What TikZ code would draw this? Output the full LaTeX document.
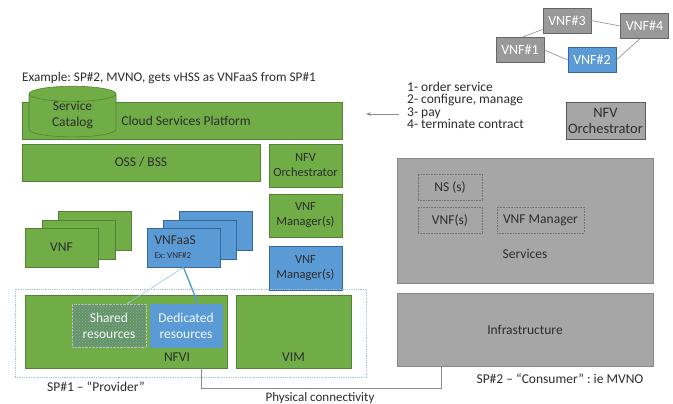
\documentclass[tikz,border=0pt]{standalone}
\usepackage{fontspec}
\setmainfont{Carlito}
\usepackage{tikz}
\usetikzlibrary{shapes,shapes.geometric,arrows.meta,patterns,positioning}
\definecolor{vgreen}{RGB}{112,173,71}
\definecolor{vgreenline}{RGB}{84,130,53}
\definecolor{vblue}{RGB}{91,155,213}
\definecolor{vblueline}{RGB}{52,105,155}
\definecolor{vgray}{RGB}{166,166,166}
\definecolor{vgrayline}{RGB}{135,135,135}
\definecolor{vtext}{RGB}{45,45,45}
\definecolor{vshared}{RGB}{100,148,106}
\definecolor{vdot}{RGB}{165,195,215}
\tikzstyle{gbox}=[shape=rectangle,draw=vgreenline,fill=vgreen,line width=0.6pt,inner sep=0pt,text=vtext,align=center]
\tikzstyle{bbox}=[shape=rectangle,draw=vblueline,fill=vblue,line width=0.6pt,inner sep=0pt,text=vtext,align=center]
\tikzstyle{graybox}=[shape=rectangle,draw=vgrayline,fill=vgray,line width=0.6pt,inner sep=0pt,text=vtext,align=center]
\tikzstyle{chainbox}=[shape=rectangle,draw=black!60,fill=black!40,line width=0.6pt,inner sep=0pt,text=white,minimum width=48,minimum height=25,font=\fontsize{14}{16}\selectfont]
\tikzstyle{dotbox}=[shape=rectangle,draw=black!55,densely dotted,line width=0.6pt,inner sep=0pt,text=vtext,minimum height=26]
\tikzstyle{narrow}=[font=\fontsize{12.5}{15}\selectfont]
\tikzstyle{lbl}=[text=vtext,inner sep=0pt]
\tikzstyle{thinedge}=[draw=black!45,line width=0.6pt]

\begin{document}
\frenchspacing
\begin{tikzpicture}[x=1pt,y=-1pt,font=\fontsize{13.5}{16}\selectfont]
 \useasboundingbox[fill=white] (0,0) rectangle (673,404);

 \node[lbl,font=\fontsize{13.2}{16}\selectfont] (title) at (169,78) {Example: SP\#2, MVNO, gets vHSS as VNFaaS from SP\#1};

 % SP#1 stack
 \node[gbox,minimum width=320,minimum height=37] (csp) at (182,120.5) {\hspace*{8pt}Cloud Services Platform};
 \node[gbox,cylinder,shape border rotate=90,shape aspect=0.37,minimum width=87,minimum height=49] (cat) at (72.5,115.5) {Service\\Catalog};
 \node[gbox,minimum width=238,minimum height=37] (oss) at (141,162.5) {OSS / BSS};
 \node[gbox,narrow,minimum width=73,minimum height=43] (orch) at (305.5,165.5) {NFV\\Orchestrator};
 \node[gbox,narrow,minimum width=73,minimum height=43] (vnfm) at (305.5,215.5) {VNF\\Manager(s)};
 \node[bbox,narrow,minimum width=73,minimum height=44] (vnfmb) at (305.5,268) {VNF\\Manager(s)};

 \node[gbox,minimum width=73,minimum height=39] (vnf3) at (94.5,230.5) {};
 \node[gbox,minimum width=73,minimum height=39] (vnf2) at (78.5,239.5) {};
 \node[gbox,minimum width=73,minimum height=39] (vnf1) at (61.5,247.5) {VNF};

 \node[bbox,minimum width=73,minimum height=39] (aas3) at (216,230.5) {};
 \node[bbox,minimum width=73,minimum height=39] (aas2) at (199.5,239.5) {};
 \node[bbox,minimum width=73,minimum height=39,text width=58,align=left] (aas1) at (183.5,247.5) {VNFaaS\\[-2pt]{\fontsize{9}{10}\selectfont Ex:\kern2pt VNF\#2}};

 \node[draw=vdot,densely dotted,line width=0.8pt,minimum width=351,minimum height=88,inner sep=0pt] (sp1) at (190.5,333) {};
 \node[gbox,minimum width=202,minimum height=73] (nfvi) at (126,331.5) {};
 \node[shape=rectangle,draw=black!25,densely dotted,fill=vshared,text=white!92!vshared,minimum width=74,minimum height=43,inner sep=0pt,align=center,
   postaction={pattern=crosshatch dots,pattern color=white!25!vshared}] (shared) at (109,325.5) {Shared\\resources};
 \node[bbox,text=white!92!vblue,draw=vblue,minimum width=72,minimum height=43] (ded) at (186,325.5) {Dedicated\\resources};
 \node[lbl] (nfvil) at (177,357) {NFVI};
 \node[gbox,minimum width=115,minimum height=73] (vim) at (293.5,331.5) {};
 \node[lbl] (viml) at (293.5,357) {VIM};
 \node[lbl] (sp1l) at (96,387) {SP\#1 – “Provider”};

 % SP#2
 \node[chainbox] (c3) at (567,20.5) {VNF\#3};
 \node[chainbox] (c4) at (644.5,26) {VNF\#4};
 \node[chainbox] (c1) at (520,50) {VNF\#1};
 \node[chainbox,fill=vblue,draw=vblueline] (c2) at (592,60) {VNF\#2};
 \node[lbl,anchor=north west,align=left,font=\fontsize{13.5}{12.3}\selectfont] (steps) at (407,82) {1- order service\\2- configure, manage\\3- pay\\4- terminate contract};
 \node[graybox,draw=black!65,minimum width=79,minimum height=37,font=\fontsize{14.5}{16}\selectfont] (orch2) at (605.5,120.5) {NFV\\Orchestrator};
 \node[graybox,minimum width=256,minimum height=125] (serv) at (525,220.5) {};
 \node[dotbox,minimum width=64] (ns) at (450,187) {NS (s)};
 \node[dotbox,minimum width=64] (vnfs) at (450,220) {VNF(s)};
 \node[dotbox,minimum width=87] (vnfmgr) at (540.5,220) {VNF Manager};
 \node[lbl] (servl) at (525,254) {Services};
 \node[graybox,minimum width=256,minimum height=73] (infra) at (525,329.5) {Infrastructure};
 \node[lbl] (sp2l) at (560,379) {SP\#2 – “Consumer” : ie MVNO};
 \node[lbl,font=\fontsize{13}{16}\selectfont] (phys) at (320,398) {Physical connectivity};

 \coordinate (pcl) at (201,0);
 \coordinate (pcr) at (441,0);
 \coordinate (arr) at (399,114);
 \coordinate (arrtip) at (366,114);

\path
(c1.80) edge [thinedge] (c3.200)
(c3.east) edge [thinedge] (c4.west)
(c4.250) edge [thinedge] (c2.east)
(c1.east) edge [thinedge] (c2.west)
(aas1.south) edge [draw=vblue!60,line width=0.6pt,-{Stealth[length=3pt]}] (shared.north -| 127,0)
(aas1.south) edge [draw=vblue,line width=1.4pt,-{Stealth[length=4pt]}] (ded.north -| 198,0)
(arr) edge [thinedge,-{Stealth[length=5pt,width=3.5pt]}] (arrtip);

\draw[thinedge] (nfvi.south -| pcl) -- ++(0,20) -| (infra.south -| pcr);

\end{tikzpicture}
\end{document}
